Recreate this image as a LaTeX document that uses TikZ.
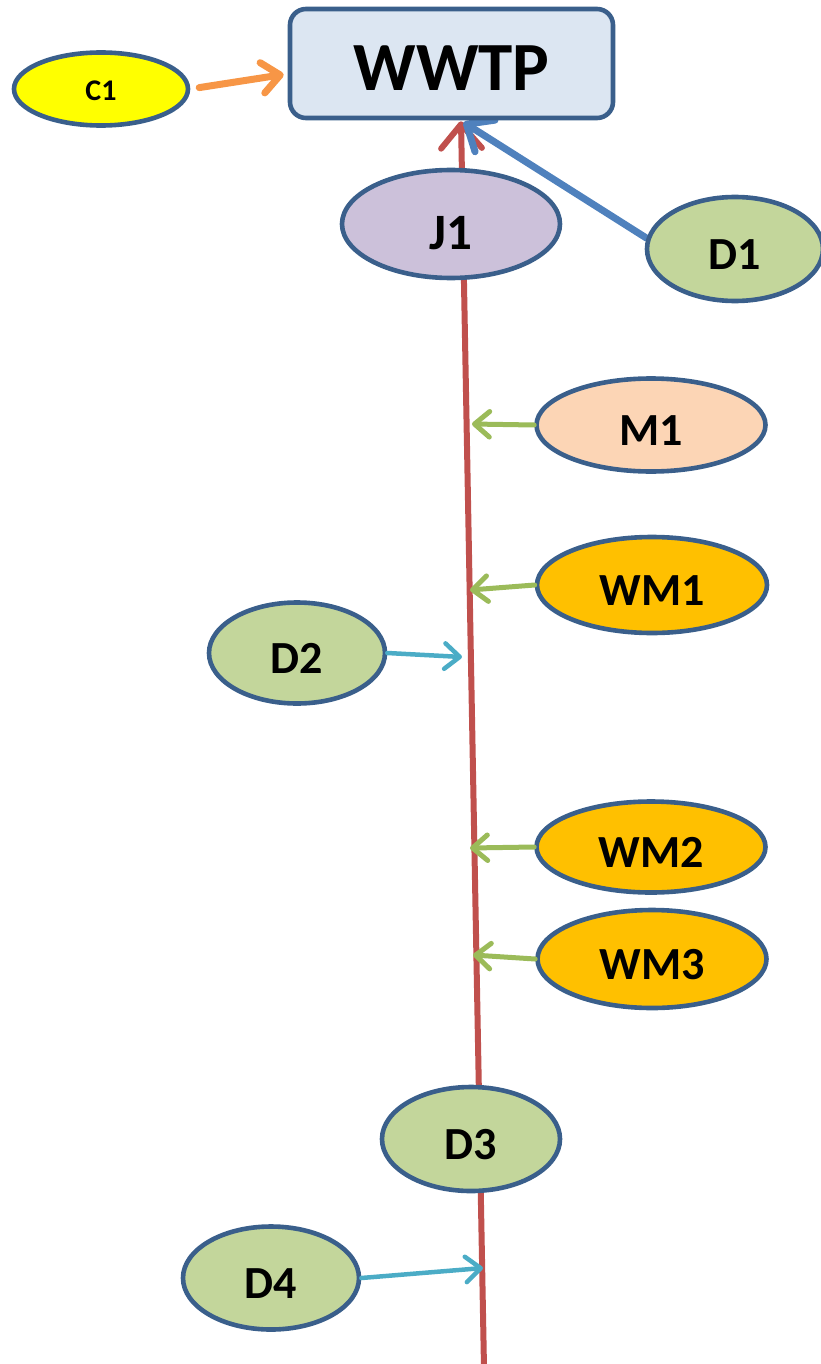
\documentclass[tikz,border=0pt]{standalone}
\usepackage{fontspec}
\setmainfont{Carlito}
\usetikzlibrary{shapes.geometric,arrows.meta,backgrounds}
\definecolor{bord}{HTML}{3A5F8B}
\definecolor{wwtpfill}{HTML}{DCE6F2}
\definecolor{cfill}{HTML}{FFFF00}
\definecolor{jfill}{HTML}{CCC1DA}
\definecolor{dfill}{HTML}{C3D69B}
\definecolor{mfill}{HTML}{FCD5B5}
\definecolor{wmfill}{HTML}{FFC000}
\definecolor{redl}{HTML}{C0504D}
\definecolor{bluel}{HTML}{4F81BD}
\definecolor{orangel}{HTML}{F79646}
\definecolor{greenl}{HTML}{9BBB59}
\definecolor{cyanl}{HTML}{4BACC6}
\begin{document}
\begin{tikzpicture}[x=1pt,y=-1pt,
  ell/.style={ellipse, draw=bord, line width=4.6pt, inner sep=0pt,
    font=\bfseries\fontsize{46}{50}\selectfont, text height=41pt, text depth=0pt},
  wbox/.style={rectangle, rounded corners=16pt, draw=bord, fill=wwtpfill, line width=4.6pt,
    inner sep=0pt, minimum width=323pt, minimum height=109pt,
    font=\bfseries\fontsize{69}{72}\selectfont, text height=54pt, text depth=0pt},
  barb/.style={-{Straight Barb[length=#1, width=1.7*#1, line cap=round, line join=round]}, line cap=round},
  redline/.style={draw=redl, line width=6pt, barb=24pt},
  blueline/.style={draw=bluel, line width=7pt, barb=22pt},
  orangeline/.style={draw=orangel, line width=7pt, barb=18pt},
  greenline/.style={draw=greenl, line width=5pt, barb=15pt},
  cyanline/.style={draw=cyanl, line width=4.5pt, barb=15pt}
]
\useasboundingbox (0,0) rectangle (820,1364);

\node[wbox] (WWTP) at (451.5,63.5) {WWTP};
\node[ell, fill=cfill, minimum width=174pt, minimum height=73pt,
  font=\bfseries\fontsize{30}{34}\selectfont, text height=24pt] (C1) at (101,89) {C1};
\node[ell, fill=jfill, minimum width=218pt, minimum height=108pt,
  font=\bfseries\fontsize{51}{54}\selectfont, text height=52pt] (J1) at (451,224) {J1};
\node[ell, fill=dfill, minimum width=176pt, minimum height=104pt] (D1) at (735,249) {D1};
\node[ell, fill=mfill, minimum width=229pt, minimum height=93pt] (M1) at (651,425) {M1};
\node[ell, fill=wmfill, minimum width=230pt, minimum height=96pt] (WM1) at (652,585) {WM1};
\node[ell, fill=dfill, minimum width=176pt, minimum height=101pt] (D2) at (297,653) {D2};
\node[ell, fill=wmfill, minimum width=229pt, minimum height=91pt] (WM2) at (651,847) {WM2};
\node[ell, fill=wmfill, minimum width=229pt, minimum height=98pt] (WM3) at (652,959) {WM3};
\node[ell, fill=dfill, minimum width=178pt, minimum height=104pt] (D3) at (471,1139) {D3};
\node[ell, fill=dfill, minimum width=176pt, minimum height=103pt] (D4) at (271,1278) {D4};

\coordinate (rbot) at (484,1368);
\coordinate (tM1) at (472,424);
\coordinate (tWM1) at (470,590);
\coordinate (tD2) at (462,657);
\coordinate (tWM2) at (470,848);
\coordinate (tWM3) at (473,955);
\coordinate (tD4) at (483,1268);

\begin{scope}[on background layer]
\draw[redline] (rbot) -- ([xshift=9.5pt,yshift=-1pt]WWTP.south);
\draw[blueline] (D1.173) -- ([xshift=12pt,yshift=-2pt]WWTP.south);
\end{scope}
\draw[orangeline, shorten <=9pt] (C1.east) -- ([xshift=-4pt,yshift=-11pt]WWTP.west);
\draw[greenline] (M1.west) -- (tM1);
\draw[greenline] (WM1.west) -- (tWM1);
\draw[greenline] (WM2.west) -- (tWM2);
\draw[greenline] (WM3.west) -- (tWM3);
\draw[cyanline] (D2.east) -- (tD2);
\draw[cyanline] (D4.east) -- (tD4);
\end{tikzpicture}
\end{document}
